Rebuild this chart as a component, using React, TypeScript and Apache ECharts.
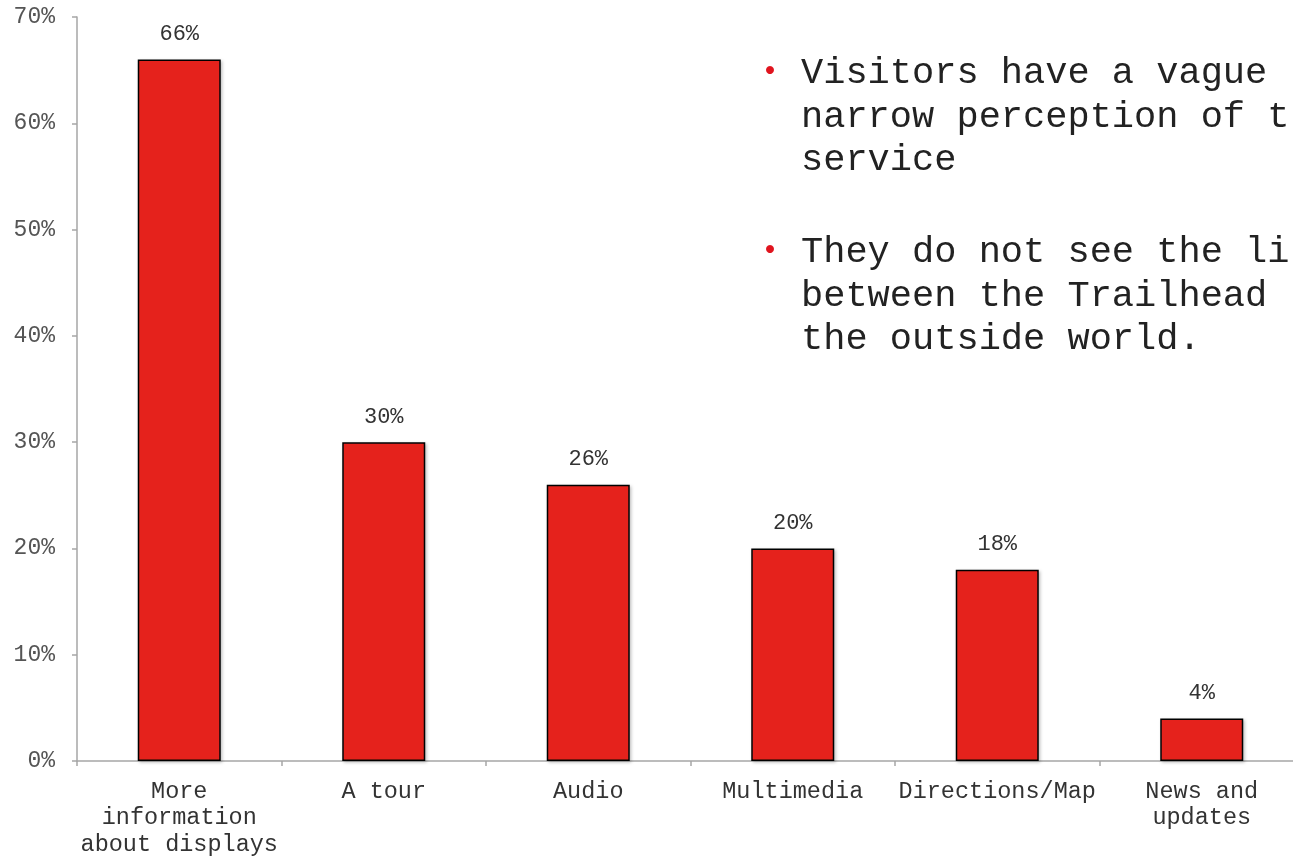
import React, { useEffect, useRef } from "react";
import * as echarts from "echarts";

const categories = [
  "More\ninformation\nabout displays",
  "A tour",
  "Audio",
  "Multimedia",
  "Directions/Map",
  "News and\nupdates",
];
const values = [66, 30, 26, 20, 18, 4];
const yTicks = { min: 0, max: 70, interval: 10 };
const bullet1 = ["Visitors have a vague", "narrow perception of t", "service"];
const bullet2 = ["They do not see the li", "between the Trailhead", "the outside world."];

const FONT = "'Liberation Mono', 'Courier New', monospace";

export default function App() {
  const ref = useRef<HTMLDivElement>(null);
  useEffect(() => {
    document.body.style.margin = "0";
    const chart = echarts.init(ref.current!, null, { renderer: "svg" });
    const textLines = (lines: string[], y0: number) =>
      lines.map((t, i) => ({
        type: "text",
        x: 801,
        y: y0 + i * 43.5,
        silent: true,
        style: {
          text: t,
          font: `37px ${FONT}`,
          fill: "#222",
          textVerticalAlign: "middle",
        },
      }));
    chart.setOption({
      animation: false,
      grid: {
        left: 77,
        top: 17,
        width: 1227,
        height: 744,
        outerBoundsMode: "none",
        containLabel: false,
      },
      xAxis: {
        type: "category",
        data: categories,
        axisLine: { lineStyle: { color: "#a6a6a6", width: 1.5 } },
        axisTick: { show: true, length: 5, lineStyle: { color: "#a6a6a6", width: 1.5 } },
        axisLabel: {
          margin: 17,
          fontFamily: FONT,
          fontSize: 23.5,
          lineHeight: 26.5,
          color: "#333",
          interval: 0,
        },
      },
      yAxis: {
        type: "value",
        min: yTicks.min,
        max: yTicks.max,
        interval: yTicks.interval,
        axisLine: { show: true, lineStyle: { color: "#a6a6a6", width: 1.5 } },
        axisTick: { show: true, length: 5, lineStyle: { color: "#a6a6a6", width: 1.5 } },
        splitLine: { show: false },
        axisLabel: {
          margin: 22,
          formatter: "{value}%",
          fontFamily: FONT,
          fontSize: 23,
          color: "#555",
        },
      },
      series: [
        {
          type: "bar",
          data: values,
          barWidth: 83,
          itemStyle: {
            color: "#e5241e",
            borderColor: "#000",
            borderWidth: 1.5,
            shadowColor: "rgba(0,0,0,0.25)",
            shadowBlur: 3,
            shadowOffsetX: 1.5,
            shadowOffsetY: 1.5,
          },
          label: {
            show: true,
            position: "top",
            distance: 14,
            formatter: "{c}%",
            fontFamily: FONT,
            fontSize: 22,
            color: "#333",
          },
        },
      ],
      graphic: [
        { type: "circle", shape: { cx: 770, cy: 70, r: 4 }, style: { fill: "#e0141e" }, silent: true },
        { type: "circle", shape: { cx: 770, cy: 249, r: 4 }, style: { fill: "#e0141e" }, silent: true },
        ...textLines(bullet1, 73),
        ...textLines(bullet2, 252),
      ],
    });
    return () => chart.dispose();
  }, []);
  return (
    <div style={{ position: "fixed", left: 0, top: 0, width: 1293, height: 858, overflow: "hidden" }}>
      <div ref={ref} style={{ width: 1320, height: 858 }} />
    </div>
  );
}
